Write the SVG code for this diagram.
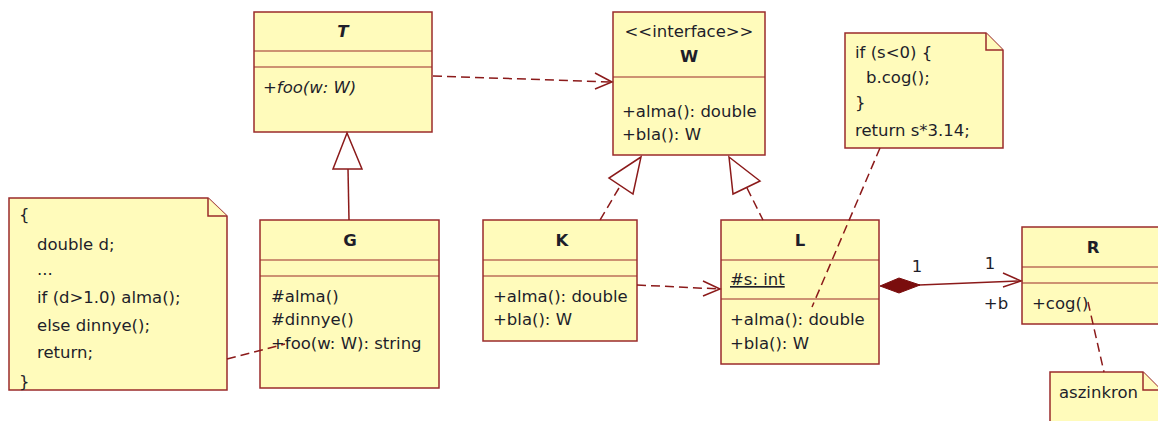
<svg xmlns="http://www.w3.org/2000/svg" width="1158" height="421" viewBox="0 0 1158 421">
<style>
.box{fill:#fffbbb;stroke:#9b2b2b;stroke-width:1.5}
.sep{stroke:#9b2b2b;stroke-width:1.2}
text{font-family:"DejaVu Sans","Liberation Sans",sans-serif;font-size:16.5px;fill:#1e1e2a}
.t{font-weight:bold;text-anchor:middle}
.it{font-style:italic}
.ln{fill:none;stroke:#8b1a1a;stroke-width:1.5}
.d{stroke-dasharray:9 5}
.tri{fill:#fff;stroke:#8b1a1a;stroke-width:1.5}
</style>
<g id="T">
<rect class="box" x="254" y="12" width="178" height="120"/>
<line class="sep" x1="254" y1="51" x2="432" y2="51"/>
<line class="sep" x1="254" y1="67" x2="432" y2="67"/>
<text class="t it" x="343" y="37">T</text>
<text class="it" x="263" y="93">+foo(w: W)</text>
</g>
<g id="W">
<rect class="box" x="613" y="12" width="152" height="143"/>
<line class="sep" x1="613" y1="77" x2="765" y2="77"/>
<text x="689" y="37" text-anchor="middle">&lt;&lt;interface&gt;&gt;</text>
<text class="t" x="689" y="62">W</text>
<text x="622" y="117">+alma(): double</text>
<text x="622" y="140">+bla(): W</text>
</g>
<g id="G">
<rect class="box" x="260" y="220" width="179" height="168"/>
<line class="sep" x1="260" y1="260" x2="439" y2="260"/>
<line class="sep" x1="260" y1="276" x2="439" y2="276"/>
<text class="t" x="350" y="246">G</text>
<text x="271" y="302">#alma()</text>
<text x="271" y="325">#dinnye()</text>
<text x="271" y="349">+foo(w: W): string</text>
</g>
<g id="K">
<rect class="box" x="483" y="220" width="154" height="121"/>
<line class="sep" x1="483" y1="260" x2="637" y2="260"/>
<line class="sep" x1="483" y1="276" x2="637" y2="276"/>
<text class="t" x="562" y="246">K</text>
<text x="493" y="302">+alma(): double</text>
<text x="493" y="325">+bla(): W</text>
</g>
<g id="L">
<rect class="box" x="721" y="220" width="158" height="144"/>
<line class="sep" x1="721" y1="260" x2="879" y2="260"/>
<line class="sep" x1="721" y1="299" x2="879" y2="299"/>
<text class="t" x="800" y="246">L</text>
<text x="730" y="285" text-decoration="underline">#s: int</text>
<text x="730" y="325">+alma(): double</text>
<text x="730" y="349">+bla(): W</text>
</g>
<g id="R">
<rect class="box" x="1022" y="227" width="140" height="97"/>
<line class="sep" x1="1022" y1="267" x2="1162" y2="267"/>
<line class="sep" x1="1022" y1="283" x2="1162" y2="283"/>
<text class="t" x="1093" y="253">R</text>
<text x="1032" y="309">+cog()</text>
</g>
<g id="note1">
<path class="box" d="M845,33 H986 L1003,50 V148 H845 Z"/>
<path class="box" d="M986,33 V50 H1003"/>
<text x="855" y="58">if (s&lt;0) {</text>
<text x="866" y="83">b.cog();</text>
<text x="855" y="108">}</text>
<text x="855" y="136">return s*3.14;</text>
</g>
<g id="note2">
<path class="box" d="M9,198 H208 L227,216 V390 H9 Z"/>
<path class="box" d="M208,198 V216 H227"/>
<text x="19" y="220">{</text>
<text x="37" y="250">double d;</text>
<text x="37" y="275">...</text>
<text x="37" y="303">if (d&gt;1.0) alma();</text>
<text x="37" y="331">else dinnye();</text>
<text x="37" y="358">return;</text>
<text x="19" y="387">}</text>
</g>
<g id="note3">
<path class="box" d="M1050,372 H1143 L1161,390 V425 H1050 Z"/>
<path class="box" d="M1143,372 V390 H1161"/>
<text x="1059" y="398">aszinkron</text>
</g>
<g id="connectors">
<line class="ln d" x1="433" y1="76" x2="612" y2="82"/>
<polyline class="ln" points="595,73 612,82 595,89"/>
<line class="ln" x1="348" y1="169" x2="349" y2="220"/>
<polygon class="tri" points="347,133 333,169 362,169"/>
<line class="ln d" x1="619" y1="188" x2="600" y2="220"/>
<polygon class="tri" points="641,157 609,178 633,194"/>
<line class="ln d" x1="747" y1="188" x2="763" y2="220"/>
<polygon class="tri" points="729,157 760,181 733,194"/>
<line class="ln d" x1="637" y1="285" x2="720" y2="289"/>
<polyline class="ln" points="703,281 720,289 703,296"/>
<line class="ln d" x1="880" y1="148" x2="812" y2="307"/>
<line class="ln d" x1="227" y1="359" x2="285" y2="344"/>
<line class="ln" x1="919" y1="285" x2="1021" y2="281"/>
<polyline class="ln" points="1003,273 1021,281 1003,287"/>
<polygon points="880,286 899,278 920,285 899,293" fill="#7a0d0d" stroke="#7a0d0d" stroke-width="1"/>
<line class="ln d" x1="1088" y1="302" x2="1104" y2="372"/>
<text x="917" y="272" text-anchor="middle">1</text>
<text x="990" y="269" text-anchor="middle">1</text>
<text x="996" y="309" text-anchor="middle">+b</text>
</g>
</svg>
